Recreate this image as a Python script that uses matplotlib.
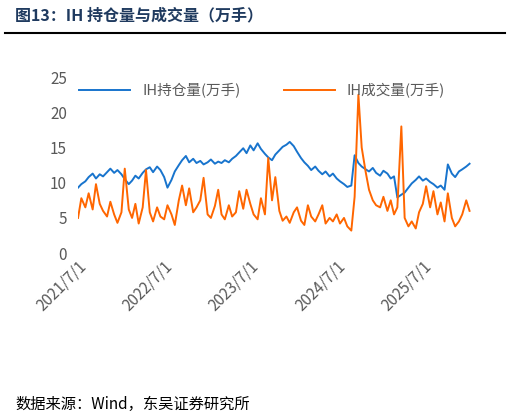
import matplotlib
matplotlib.use("Agg")
import matplotlib.pyplot as plt
import pandas as pd

plt.rcParams['font.family'] = ['Noto Sans CJK SC', 'DejaVu Sans']

oi = [9.3,9.8,10.2,10.8,11.3,10.6,11.2,10.9,11.5,12.0,11.4,11.8,
      11.2,10.5,9.8,10.3,11.0,10.6,11.4,11.9,12.2,11.5,12.3,11.8,10.8,9.3,10.4,11.6,12.5,13.2,13.8,12.9,13.4,12.8,13.1,12.6,
      12.9,13.3,12.7,13.0,12.8,13.2,12.9,13.4,13.8,14.3,14.9,14.2,15.3,14.6,15.6,14.8,14.1,13.6,13.2,14.0,14.6,15.1,15.4,15.8,
      15.2,14.4,13.5,12.9,12.4,11.8,12.3,11.7,11.2,11.6,10.9,11.3,10.6,10.2,9.8,9.4,9.6,13.9,12.8,12.3,11.9,11.6,12.1,11.4,
      11.0,11.7,11.3,10.6,10.9,7.9,8.3,8.6,9.3,9.9,10.4,10.9,10.3,10.6,10.1,9.8,9.3,9.6,9.0,12.6,11.3,10.8,11.6,11.9,
      12.3,12.7]
vol = [5.0,7.8,6.5,8.5,6.2,9.8,7.0,6.0,5.2,7.3,5.5,4.3,
       5.8,12.0,6.2,5.0,7.0,4.2,6.5,11.8,5.8,4.5,6.5,5.2,4.8,6.8,5.5,4.0,7.5,9.6,6.8,9.2,5.8,6.5,7.5,10.7,
       5.5,5.0,6.7,9.0,5.5,4.8,6.8,5.2,5.8,8.8,6.3,9.0,7.0,5.5,4.8,7.8,5.5,13.5,7.5,10.8,6.0,4.6,5.2,4.3,
       5.8,6.5,4.6,4.0,6.8,5.2,4.5,5.5,6.8,4.2,5.0,4.5,5.5,4.2,5.0,3.8,3.2,8.0,22.5,15.0,11.5,9.0,7.5,6.8,
       6.5,8.0,6.0,7.5,5.5,6.5,18.0,5.0,3.8,4.5,3.5,5.8,7.0,9.5,6.5,8.8,5.5,7.2,4.5,8.5,5.0,3.8,4.5,5.5,
       7.5,6.0]
xtick_labels = ['2021/7/1','2022/7/1','2023/7/1','2024/7/1','2025/7/1']

dates = pd.date_range('2021-07-01', periods=len(oi), freq='SMS')

fig = plt.figure(figsize=(5.1, 4.17), dpi=100)
fig.text(0.03, 0.962, '图13：IH 持仓量与成交量（万手）', fontsize=11.5, fontweight='bold',
         color='#1f3a5f', va='center')
fig.add_artist(plt.Line2D([0.01, 0.99], [0.922, 0.922], color='black', lw=1.5))
fig.text(0.03, 0.03, '数据来源：Wind，东吴证券研究所', fontsize=11, color='black', va='center')

ax = fig.add_axes([0.153, 0.393, 0.77, 0.422])
ax.plot(dates, oi, color='#1874cd', lw=1.4, label='IH持仓量(万手)')
ax.plot(dates, vol, color='#ff6600', lw=1.4, label='IH成交量(万手)')
ax.set_ylim(0, 25)
ax.set_yticks([0,5,10,15,20,25])
ax.set_xlim(pd.Timestamp('2021-07-01'), pd.Timestamp('2026-01-20'))
ax.set_xticks([pd.Timestamp(s) for s in xtick_labels])
ax.set_xticklabels(xtick_labels, rotation=45, ha='right', rotation_mode='anchor')
for s in ax.spines.values():
    s.set_visible(False)
ax.tick_params(length=0, colors='#595959', labelsize=11)
ax.tick_params(axis='y', pad=8)
ax.legend(loc='upper left', bbox_to_anchor=(-0.03, 1.04), ncol=2, frameon=False,
          fontsize=10.5, labelcolor='#595959', handlelength=3.5, columnspacing=3)
fig.savefig('out.png')
